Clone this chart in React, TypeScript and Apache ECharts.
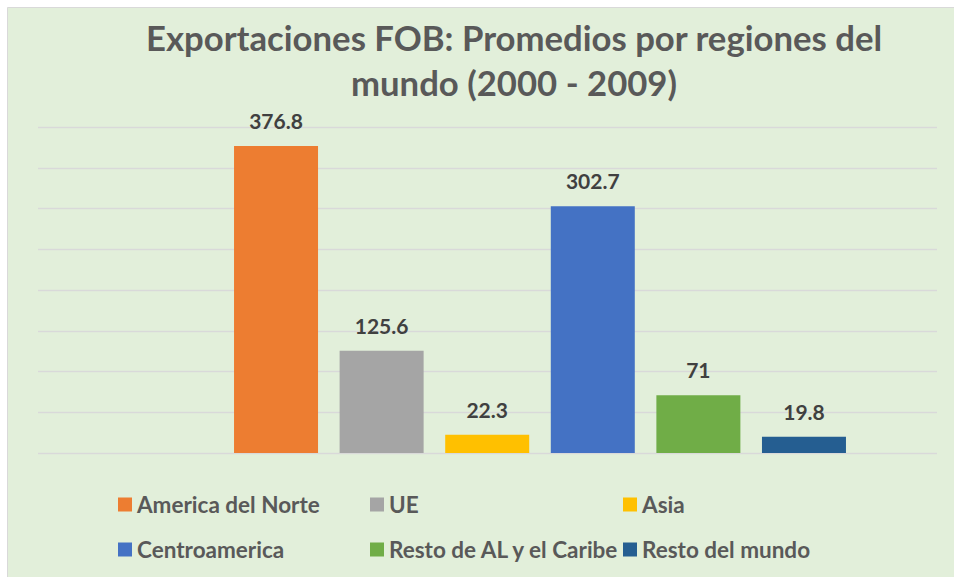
import React, { useEffect, useRef } from "react";
import * as echarts from "echarts";

const seriesNames = [
  "America del Norte",
  "UE",
  "Asia",
  "Centroamerica",
  "Resto de AL y el Caribe",
  "Resto del mundo",
];
const seriesValues = [376.8, 125.6, 22.3, 302.7, 71, 19.8];
const seriesColors = ["#ED7D31", "#A5A5A5", "#FFC000", "#4472C4", "#70AD47", "#255E91"];
const categories = [""];
const titleLines = ["Exportaciones FOB: Promedios por regiones del", "mundo (2000 - 2009)"];

const FONT = "Lato, 'Open Sans', sans-serif";

export default function App() {
  const ref = useRef<HTMLDivElement>(null);
  useEffect(() => {
    if (!ref.current) return;
    const chart = echarts.init(ref.current, null, { renderer: "svg" });
    const legendCols = [118, 370, 623];
    const legendRows = [493, 538];
    const legends = seriesNames.map((name, i) => ({
      data: [name],
      left: legendCols[i % 3],
      top: legendRows[Math.floor(i / 3)],
      itemWidth: 14,
      itemHeight: 14,
      itemGap: 0,
      icon: "rect",
      padding: 0,
      textStyle: {
        color: "#595959",
        fontSize: 22.5,
        fontWeight: "bold",
        fontFamily: FONT,
      },
    }));
    chart.setOption({
      animation: false,
      backgroundColor: "#FFFFFF",
      graphic: [
        {
          type: "rect",
          shape: { x: 7.5, y: 7.5, width: 960, height: 590 },
          style: { fill: "#E2EFDA", stroke: "#D9D9D9", lineWidth: 1 },
          z: -10,
          silent: true,
        },
      ],
      title: {
        text: titleLines.join("\n"),
        left: 514,
        top: 15,
        padding: 0,
        textAlign: "center",
        textStyle: {
          color: "#595959",
          fontSize: 34.7,
          fontWeight: "bold",
          fontFamily: FONT,
          lineHeight: 45,
        },
      },
      legend: legends,
      grid: [
        { left: 38, right: 17, top: 127, bottom: 124 },
        { left: 140, right: 14, top: 127, bottom: 124 },
      ],
      xAxis: [
        {
          type: "category",
          gridIndex: 0,
          data: categories,
          axisLine: { show: false },
          axisTick: { show: false },
          axisLabel: { show: false },
        },
        {
          type: "category",
          gridIndex: 1,
          data: categories,
          axisLine: { show: false },
          axisTick: { show: false },
          axisLabel: { show: false },
        },
      ],
      yAxis: [
        {
          type: "value",
          gridIndex: 0,
          min: 0,
          max: 400,
          interval: 50,
          axisLine: { show: false },
          axisTick: { show: false },
          axisLabel: { show: false },
          splitLine: { show: true, lineStyle: { color: "#D9D9D9", width: 1.3 } },
        },
        {
          type: "value",
          gridIndex: 1,
          min: 0,
          max: 400,
          interval: 50,
          axisLine: { show: false },
          axisTick: { show: false },
          axisLabel: { show: false },
          splitLine: { show: false },
        },
      ],
      series: seriesNames.map((name, i) => ({
        type: "bar",
        name,
        xAxisIndex: 1,
        yAxisIndex: 1,
        data: [seriesValues[i]],
        barWidth: 84,
        barGap: "25.7%",
        itemStyle: { color: seriesColors[i] },
        label: {
          show: true,
          position: "top",
          distance: 15,
          color: "#404040",
          fontSize: 21,
          fontWeight: "bold",
          fontFamily: FONT,
        },
      })),
    });
    return () => chart.dispose();
  }, []);
  return (
    <div
      ref={ref}
      style={{ position: "absolute", left: 0, top: 0, width: 954, height: 577 }}
    />
  );
}
